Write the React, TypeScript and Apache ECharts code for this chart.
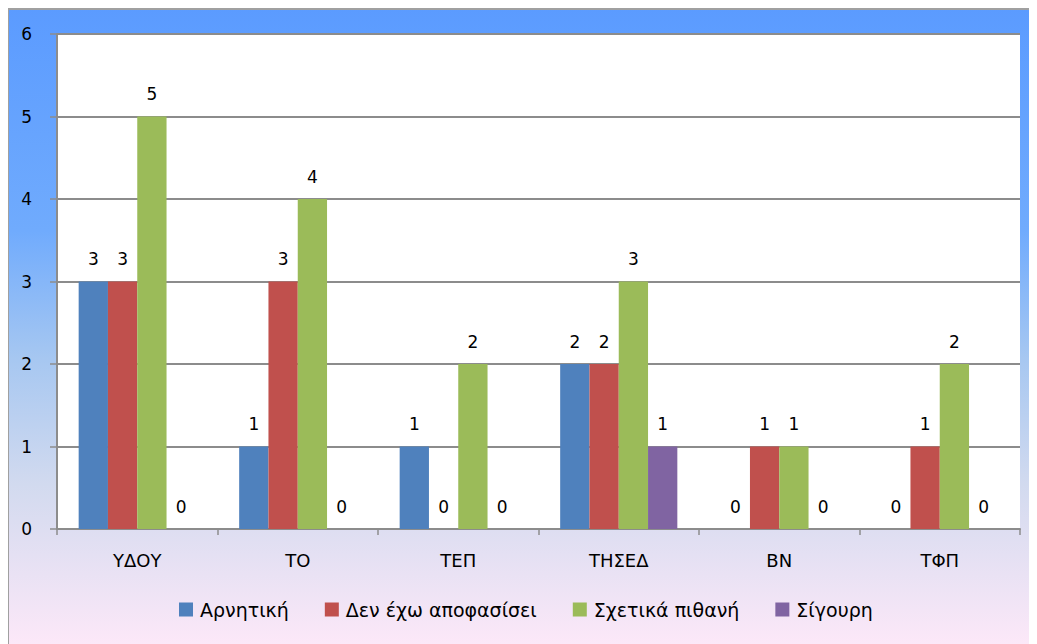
import React, { useEffect, useRef } from "react";
import * as echarts from "echarts";

const categories = ["ΥΔΟΥ", "ΤΟ", "ΤΕΠ", "ΤΗΣΕΔ", "ΒΝ", "ΤΦΠ"];
const seriesNames = ["Αρνητική", "Δεν έχω αποφασίσει", "Σχετικά πιθανή", "Σίγουρη"];
const negative = [3, 1, 1, 2, 0, 0];
const undecided = [3, 3, 0, 2, 1, 1];
const likely = [5, 4, 2, 3, 1, 2];
const sure = [0, 0, 0, 1, 0, 0];
const colors = ["#4F81BD", "#C0504D", "#9BBB59", "#8064A2"];

const FONT = "'DejaVu Sans', 'Noto Sans', sans-serif";

export default function App() {
  const ref = useRef<HTMLDivElement>(null);
  useEffect(() => {
    if (!ref.current) return;
    const chart = echarts.init(ref.current, undefined, { renderer: "svg" });
    const values = [negative, undecided, likely, sure];
    chart.setOption({
      animation: false,
      backgroundColor: new echarts.graphic.LinearGradient(0, 0, 0, 1, [
        { offset: 0, color: "#5B9BFF" },
        { offset: 0.35, color: "#70ABFD" },
        { offset: 0.55, color: "#A6C7F1" },
        { offset: 0.75, color: "#D2DAEF" },
        { offset: 1, color: "#FCE8F8" },
      ]),
      textStyle: { fontFamily: FONT },
      grid: {
        left: 49,
        top: 26,
        right: 17,
        bottom: 115,
        show: true,
        backgroundColor: "#FFFFFF",
        borderWidth: 0,
      },
      legend: {
        bottom: 20,
        left: 166,
        itemWidth: 14,
        itemHeight: 14,
        itemGap: 36,
        icon: "rect",
        textStyle: { fontSize: 19, color: "#000", fontFamily: FONT, padding: [0, 0, 0, 2] },
        data: seriesNames,
      },
      xAxis: {
        type: "category",
        data: categories,
        axisLine: { lineStyle: { color: "#8C8C8C", width: 2 } },
        axisTick: { show: true, length: 6, lineStyle: { color: "#8C8C8C", width: 1.5 } },
        axisLabel: { color: "#000", fontSize: 18, margin: 22, fontFamily: FONT },
      },
      yAxis: {
        type: "value",
        min: 0,
        max: 6,
        interval: 1,
        axisLine: { show: true, lineStyle: { color: "#8C8C8C", width: 2 } },
        axisTick: { show: true, length: 7, lineStyle: { color: "#8C8C8C", width: 1.5 } },
        axisLabel: { color: "#000", fontSize: 17, margin: 25, fontFamily: FONT },
        splitLine: { lineStyle: { color: "#8C8C8C", width: 2 } },
      },
      graphic: [
        { type: "line", shape: { x1: 0, y1: 1, x2: 1029, y2: 1 }, style: { stroke: "#A0A0A0", lineWidth: 2 } },
        { type: "line", shape: { x1: 0, y1: 0, x2: 0, y2: 636 }, style: { stroke: "#A0A0A0", lineWidth: 2 } },
      ],
      series: seriesNames.map((name, i) => ({
        name,
        type: "bar",
        data: values[i],
        barGap: "0%",
        barCategoryGap: "27%",
        itemStyle: { color: colors[i] },
        label: {
          show: true,
          position: "top",
          distance: 14,
          color: "#000",
          fontSize: 17,
          fontFamily: FONT,
        },
      })),
    });
    return () => chart.dispose();
  }, []);
  return <div ref={ref} style={{ width: 1029, height: 636 }} />;
}
